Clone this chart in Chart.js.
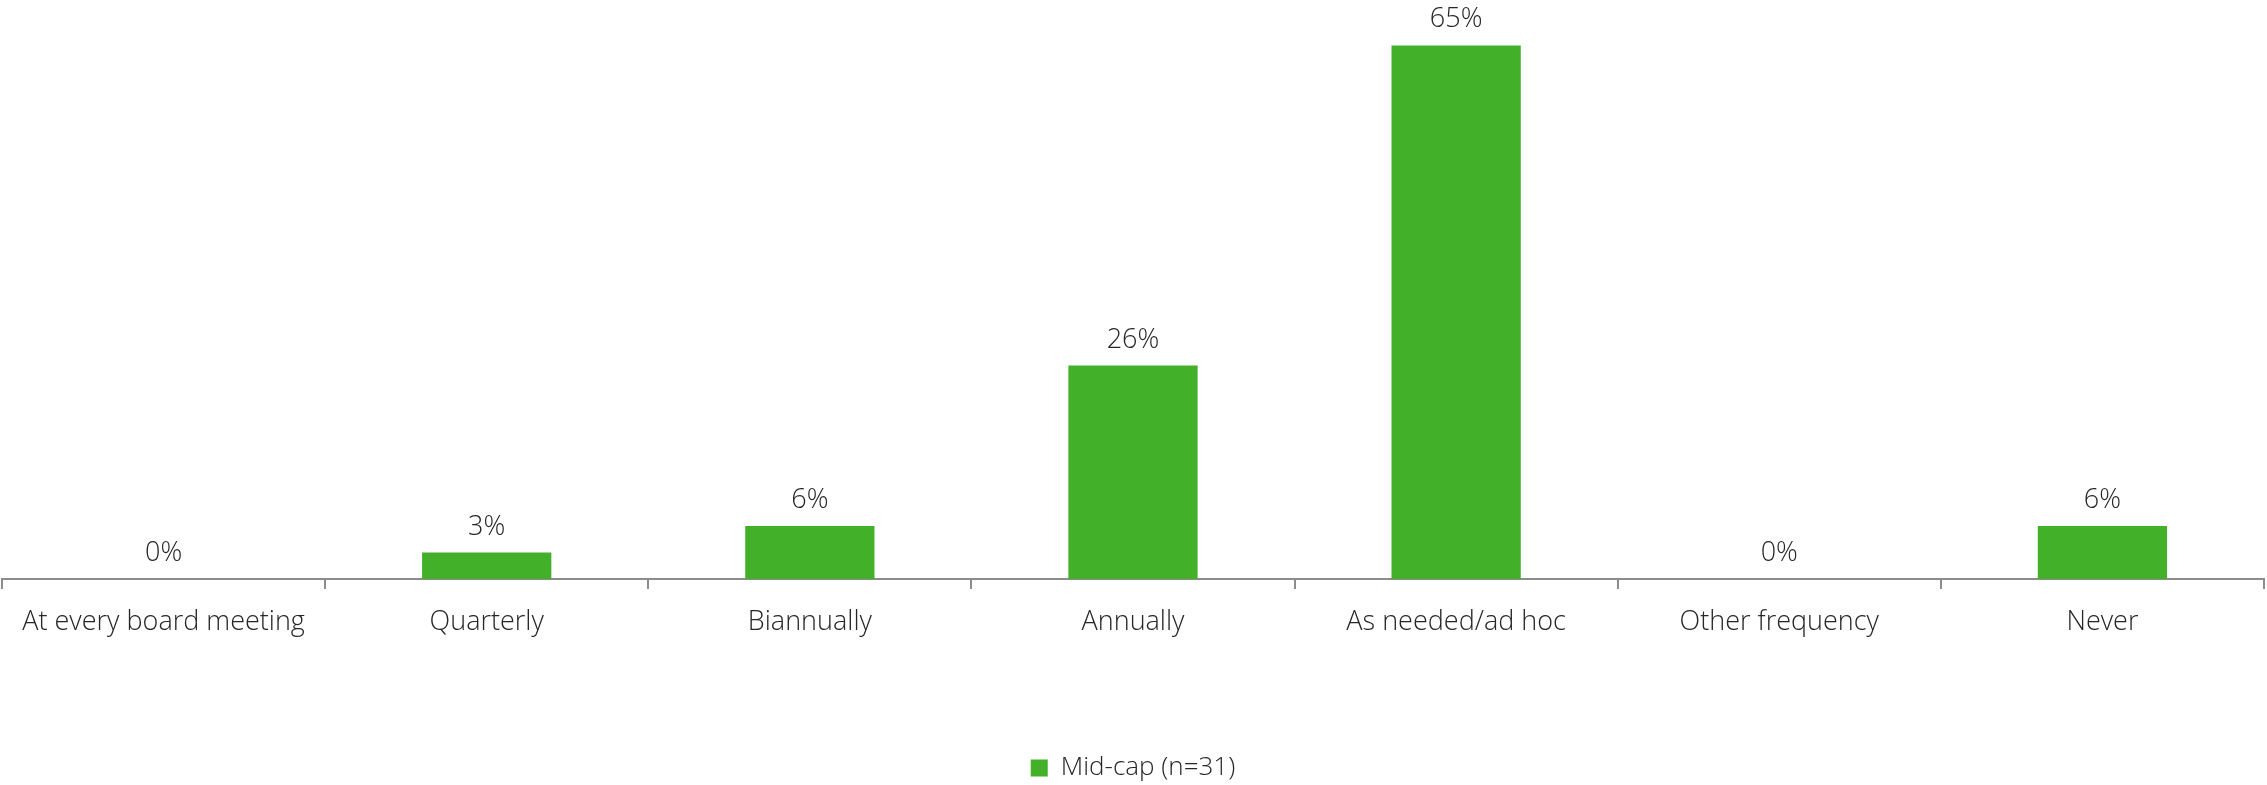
<!DOCTYPE html>
<html>
<head>
<meta charset="utf-8">
<script src="https://cdn.jsdelivr.net/npm/chart.js@4"></script>
<style>
  html, body { margin: 0; padding: 0; background: #fff; }
  #wrap { width: 2267px; height: 785px; }
</style>
</head>
<body>
<div id="wrap"><canvas id="chart" width="2267" height="785"></canvas></div>
<script>
// ===== data =====
const categories = ['At every board meeting', 'Quarterly', 'Biannually', 'Annually', 'As needed/ad hoc', 'Other frequency', 'Never'];
const midCap = [0, 3.2, 6.4, 25.8, 64.5, 0, 6.4];
const seriesLabel = 'Mid-cap (n=31)';
const yMax = 70;

const GREEN = '#43B02A';
const TEXT = '#262626';
const AXIS = '#8c8c8c';
const FONT = "'Open Sans', 'Noto Sans', sans-serif";

// value labels above each bar, rounded to whole percent
const barLabels = {
  id: 'barLabels',
  afterDatasetsDraw(chart) {
    const ctx = chart.ctx;
    const meta = chart.getDatasetMeta(0);
    ctx.save();
    ctx.font = '300 27px ' + FONT;
    ctx.fillStyle = TEXT;
    ctx.textAlign = 'center';
    ctx.textBaseline = 'alphabetic';
    meta.data.forEach((bar, i) => {
      ctx.fillText(Math.round(midCap[i]) + '%', bar.x, bar.y - 18);
    });
    ctx.restore();
  }
};

new Chart(document.getElementById('chart'), {
  type: 'bar',
  data: {
    labels: categories,
    datasets: [{
      label: seriesLabel,
      data: midCap,
      backgroundColor: GREEN,
      borderWidth: 0,
      categoryPercentage: 1,
      barPercentage: 0.4
    }]
  },
  options: {
    responsive: false,
    animation: false,
    layout: { padding: { left: 2, right: 3, top: 0, bottom: -6 } },
    plugins: {
      tooltip: { enabled: false },
      legend: {
        position: 'bottom',
        labels: {
          boxWidth: 17, boxHeight: 17, padding: 3,
          color: TEXT,
          font: { family: FONT, size: 26, weight: '300' }
        }
      }
    },
    scales: {
      x: {
        offset: true,
        grid: { display: true, offset: true, drawOnChartArea: false, drawTicks: true, tickLength: 10, color: AXIS, lineWidth: 2 },
        border: { display: true, color: AXIS, width: 2 },
        ticks: { color: TEXT, padding: 17, maxRotation: 0, autoSkip: false, font: { family: FONT, size: 27, weight: '300' } },
        afterFit: scale => { scale.height = 173; }
      },
      y: { display: false, min: 0, max: yMax }
    }
  },
  plugins: [barLabels]
});
</script>
</body>
</html>
